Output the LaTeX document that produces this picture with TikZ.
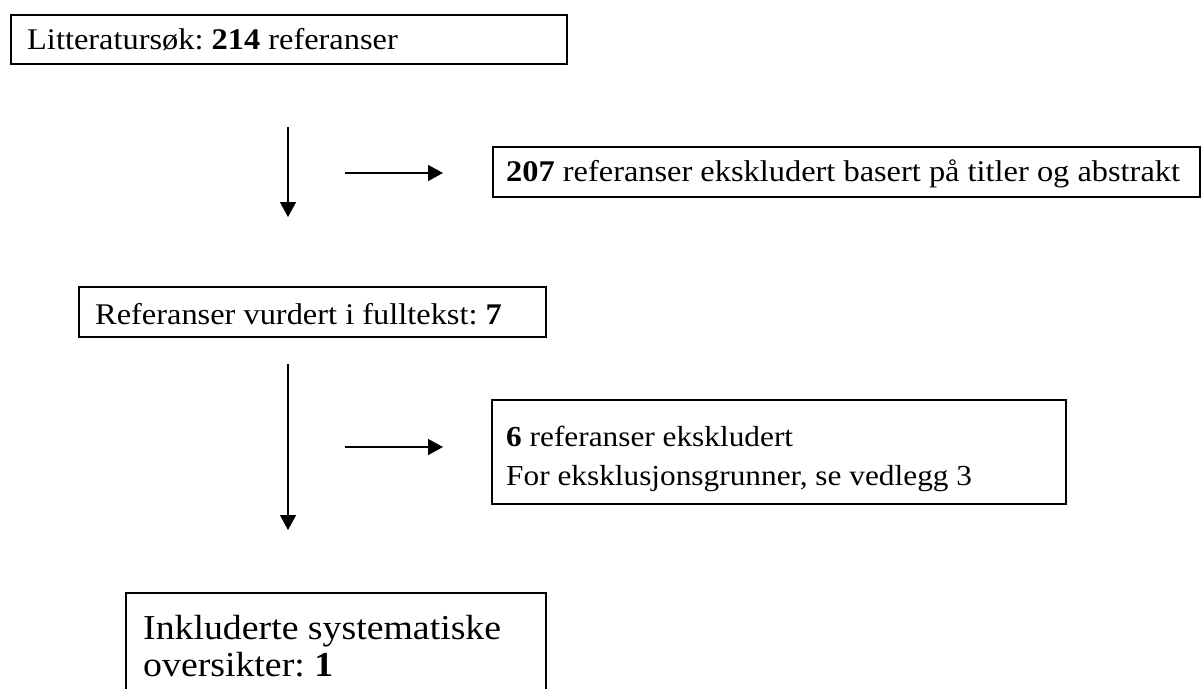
\documentclass[tikz,border=0pt]{standalone}
\usepackage{fontspec}
\setmainfont{Liberation Serif}[FakeStretch=1.08]
\usetikzlibrary{arrows.meta}
\begin{document}
\frenchspacing
\begin{tikzpicture}[x=1pt,y=-1pt,
  box/.style={draw, line width=1.7pt, anchor=north west, inner sep=0pt},
  txt/.style={anchor=base west, inner sep=0pt, font=\fontsize{30}{36}\selectfont},
  arr/.style={line width=1.4pt, -{Triangle[length=15pt,width=16pt]}}]
\useasboundingbox (0,0) rectangle (1201,688);
\clip (0,0) rectangle (1201,688);
% boxes
\node[box, minimum width=556pt, minimum height=49pt] (lit) at (10,14) {};
\node[box, minimum width=707pt, minimum height=50pt] (ex1) at (492,146) {};
\node[box, minimum width=467pt, minimum height=50pt] (full) at (78,286) {};
\node[box, minimum width=574pt, minimum height=104pt] (ex2) at (491,399) {};
\node[box, minimum width=420pt, minimum height=150pt] (inc) at (125,592) {};
% texts
\node[txt] (litt) at (27,49) {Litteraturs\o k: \textbf{214} referanser};
\node[txt] (ex1t) at (506,181) {\textbf{207} referanser ekskludert basert p\aa{} titler og abstrakt};
\node[txt] (fullt) at (95,324) {Referanser vurdert i fulltekst: \textbf{7}};
\node[txt, font=\fontsize{29}{36}\selectfont] (ex2a) at (506,446) {\textbf{6} referanser ekskludert};
\node[txt, font=\fontsize{29}{36}\selectfont] (ex2b) at (506,485) {For eksklusjonsgrunner, se vedlegg 3};
\node[txt, font=\fontsize{35}{40}\selectfont] (inca) at (143,639) {Inkluderte systematiske};
\node[txt, font=\fontsize{35}{40}\selectfont] (incb) at (143,676) {oversikter: \textbf{1}};
% connectors
\coordinate (d1s) at (288,127); \coordinate (d1e) at (288,217);
\coordinate (r1s) at (345,173); \coordinate (r1e) at (443,173);
\coordinate (d2s) at (288,364); \coordinate (d2e) at (288,530);
\coordinate (r2s) at (345,447); \coordinate (r2e) at (443,447);
\draw[arr] (d1s) -- (d1e);
\draw[arr] (r1s) -- (r1e);
\draw[arr] (d2s) -- (d2e);
\draw[arr] (r2s) -- (r2e);
\end{tikzpicture}
\end{document}
